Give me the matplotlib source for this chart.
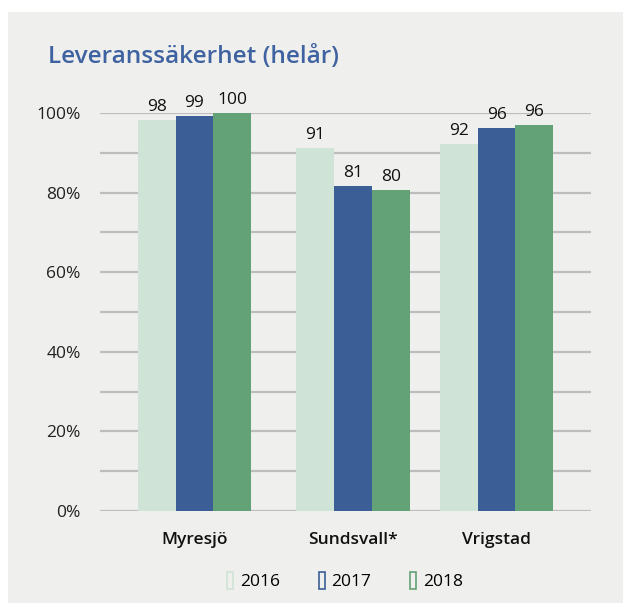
import matplotlib
matplotlib.use("Agg")
import matplotlib.pyplot as plt
from matplotlib.patches import Rectangle
import numpy as np

categories = ["Myresjö", "Sundsvall*", "Vrigstad"]
years = ["2016", "2017", "2018"]
values_2016 = [98.2, 91.1, 92.2]
values_2017 = [99.3, 81.6, 96.2]
values_2018 = [100.0, 80.6, 97.0]
labels_2016 = ["98", "91", "92"]
labels_2017 = ["99", "81", "96"]
labels_2018 = ["100", "80", "96"]
ytick_values = [0, 20, 40, 60, 80, 100]
ytick_labels = ["0%", "20%", "40%", "60%", "80%", "100%"]

colors = ["#cfe3d7", "#3b5e97", "#62a276"]
FONT = ["Open Sans", "DejaVu Sans"]
plt.rcParams["font.family"] = FONT

W, H = 623, 603
fig = plt.figure(figsize=(W / 100, H / 100), dpi=100, facecolor="white")
fig.patches.append(Rectangle((8 / W, 0), 1 - 8 / W, 1 - 12 / H, transform=fig.transFigure,
                             facecolor="#efefed", edgecolor="none", zorder=-10))

ax = fig.add_axes([100 / W, (H - 511) / H, (591 - 100) / W, (511 - 113) / H])
ax.set_facecolor("none")

# layout: group centre positions in bar-width units
group_pos = np.array([0.0, 4.2, 8.0])
bw = 1.0
series = [(values_2016, labels_2016), (values_2017, labels_2017), (values_2018, labels_2018)]
handles = []
for i, ((vals, labs), col, yr) in enumerate(zip(series, colors, years)):
    xs = group_pos + (i - 1) * bw
    ax.bar(xs, vals, width=bw, color=col, zorder=3, label=yr)
    for x, v, lab in zip(xs, vals, labs):
        ax.annotate(lab, (x, v), xytext=(0, 6.5), textcoords="offset points",
                    ha="center", va="baseline", fontsize=12.5, color="#111111", zorder=4)
    handles.append(Rectangle((0, 0), 1, 1, facecolor="none", edgecolor=col, linewidth=1.2))

ax.set_xlim(-2.5, 10.5)
ax.set_ylim(0, 100)
for gy in range(0, 101, 10):
    ax.axhline(gy, color="#bdbdbd", linewidth=1.6, zorder=1)
ax.set_yticks(ytick_values)
ax.set_yticklabels(ytick_labels, fontsize=12.5, color="#222222")
ax.set_xticks(group_pos)
ax.set_xticklabels(categories, fontsize=12.5, fontweight="semibold", color="#111111")
ax.tick_params(axis="y", length=0, pad=14)
ax.tick_params(axis="x", length=0, pad=15)
for s in ax.spines.values():
    s.set_visible(False)

fig.text(48 / W, 1 - 63 / H, "Leveranssäkerhet (helår)", fontsize=17.6, fontweight="semibold",
         color="#3f62a0", ha="left", va="baseline")

fig.legend(handles, years, loc="center", bbox_to_anchor=(345 / W, 1 - 581 / H),
           ncol=3, frameon=False, fontsize=12.5, handlelength=0.35, handleheight=1.1,
           handletextpad=0.4, columnspacing=2.2)

fig.savefig("out.png", dpi=100, facecolor=fig.get_facecolor())
